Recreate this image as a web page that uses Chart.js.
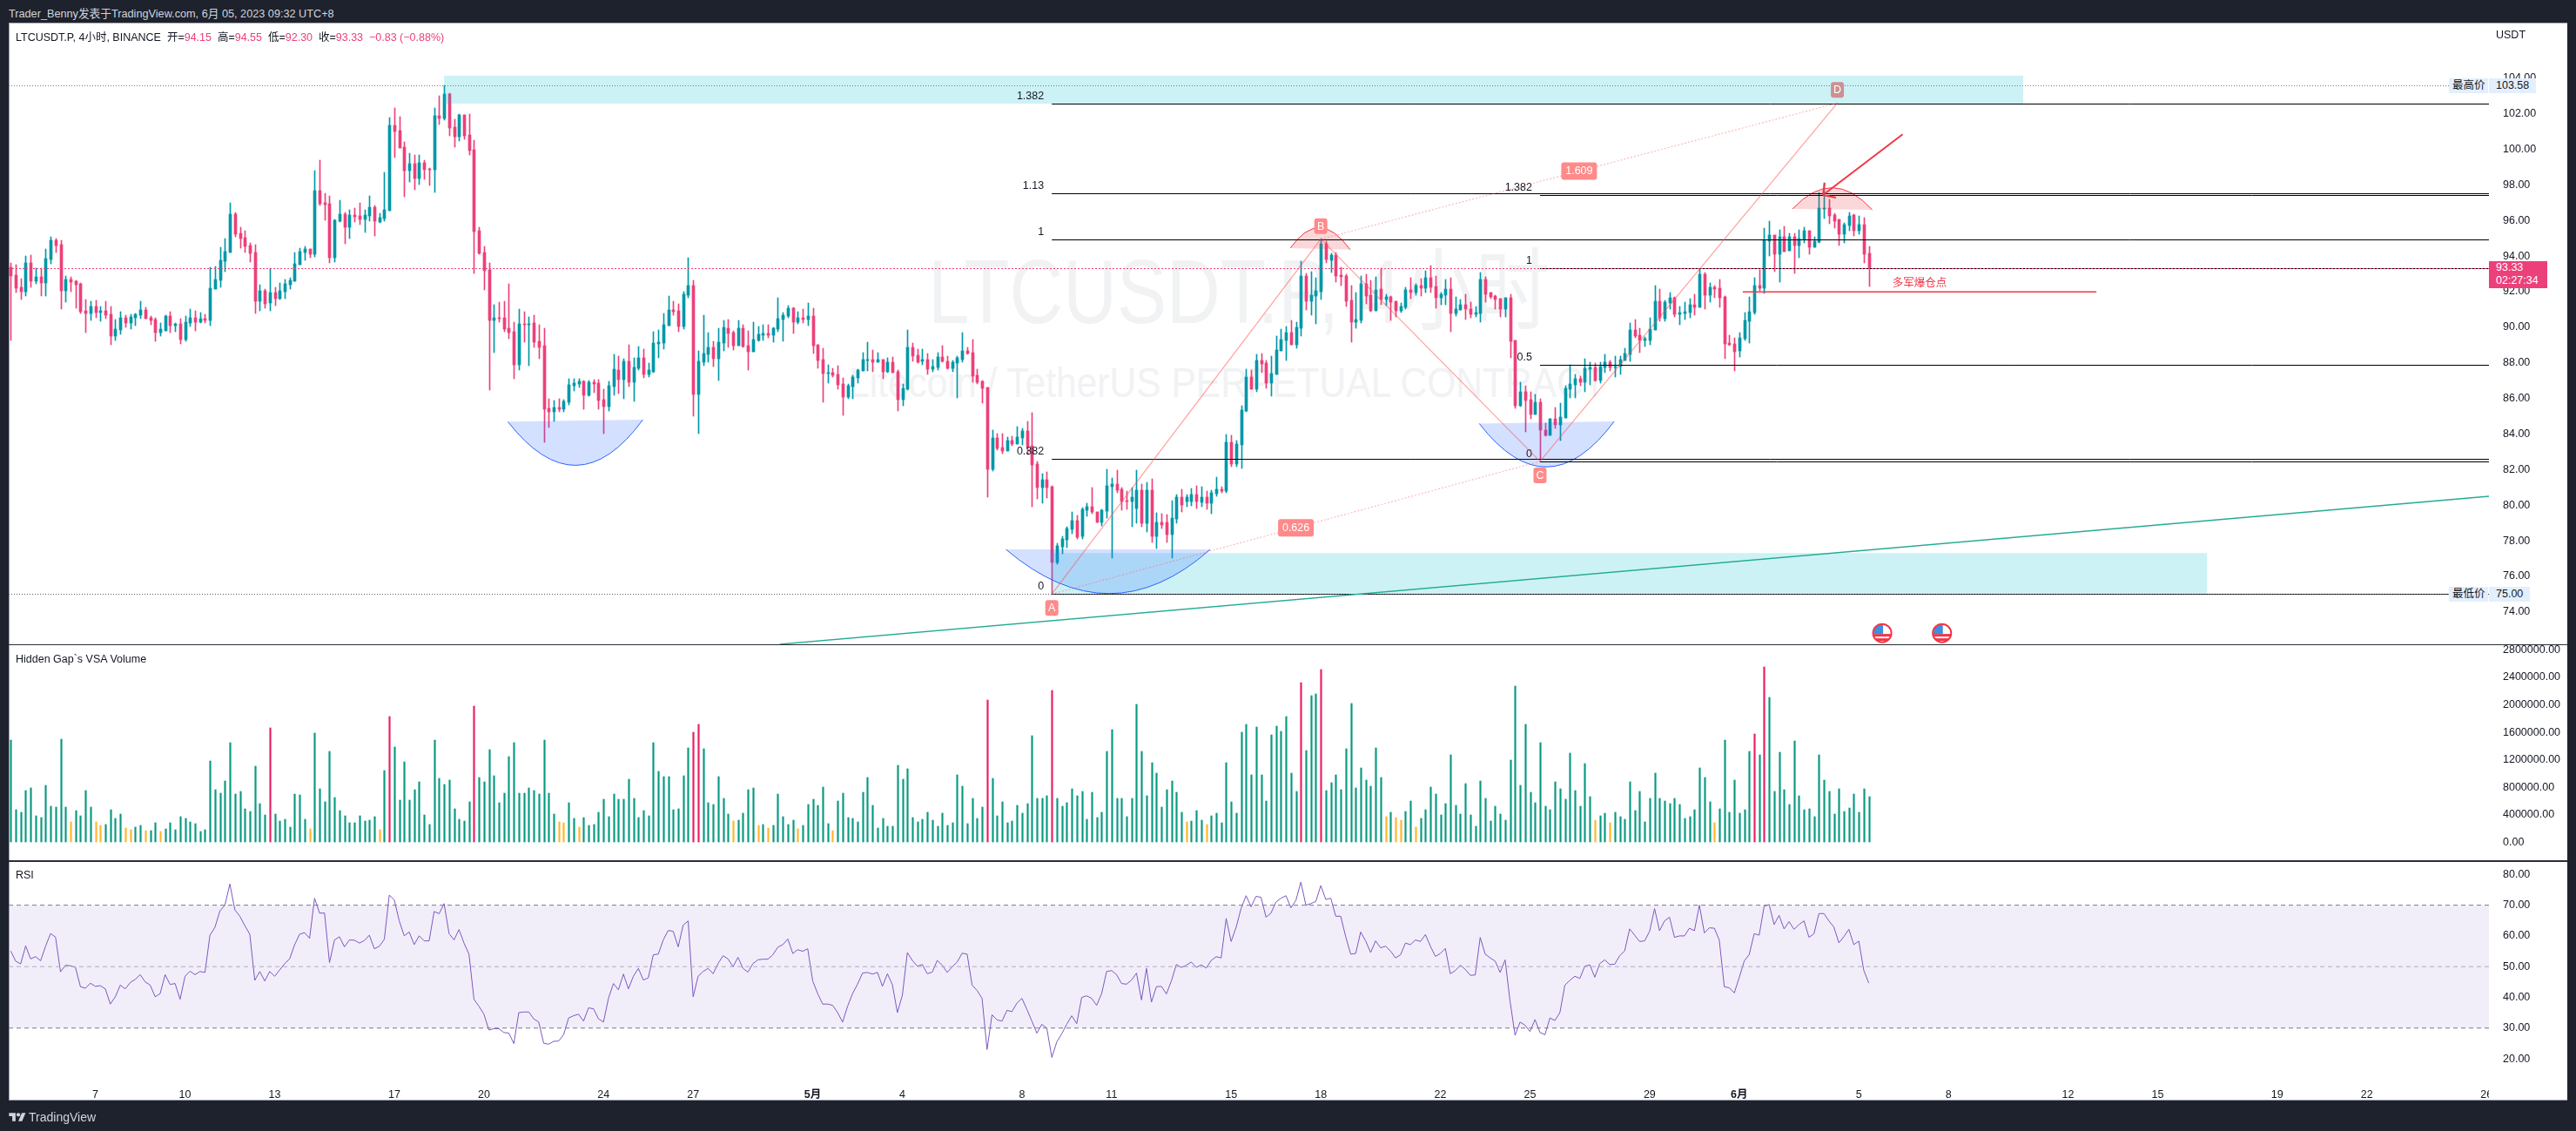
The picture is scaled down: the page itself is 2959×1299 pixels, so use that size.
<!DOCTYPE html>
<html>
<head>
<meta charset="utf-8">
<title>LTCUSDT.P</title>
<script src="https://cdn.jsdelivr.net/npm/chart.js@4/dist/chart.umd.min.js"></script>
<style>
  * { box-sizing: border-box; }
  html, body { margin: 0; width: 2959px; height: 1299px; overflow: hidden; background: #1e222d; font-family: "Liberation Sans", "Noto Sans CJK SC", sans-serif; }
  .abs { position: absolute; white-space: nowrap; }
  canvas { position: absolute; left: 10px; }
  #panel { left: 10px; top: 26px; width: 2939px; height: 1238px; background: #fff; border: 1px solid #a3a6af; border-right: 0; }
  .sep { left: 10px; width: 2939px; background: #2a2e39; }
  .t { font-size: 12.5px; line-height: 16px; color: #131722; }
  .mark { font-family: "Liberation Sans", "Noto Sans CJK SC", sans-serif; color: #f1f2f4; transform-origin: left top; }
  .down { color: #ec407a; }
  .tag { font-size: 12.5px; line-height: 17px; height: 17px; background: #e3effd; color: #131722; padding-left: 4px; }
</style>
</head>
<body>
<div class="abs" id="panel"></div>
<div class="abs mark" style="left:1066px;top:277px;font-size:103px;line-height:118px;transform:scaleX(0.83);">LTCUSDT.P, 4小时</div>
<div class="abs mark" style="left:975px;top:411px;font-size:49px;line-height:56px;transform:scaleX(0.868);">Litecoin / TetherUS PERPETUAL CONTRACT</div>

<canvas id="priceChart"></canvas>
<canvas id="volumeChart"></canvas>
<canvas id="rsiChart"></canvas>

<div class="abs sep" style="top:740px;height:1px;"></div>
<div class="abs sep" style="top:988px;height:2px;"></div>
<div class="abs" style="left:2859px;top:1238px;width:90px;height:24px;background:#fff;"></div>

<div class="abs" style="left:10px;top:8px;font-size:12.7px;line-height:16px;color:#d1d4dc;">Trader_Benny发表于TradingView.com, 6月 05, 2023 09:32 UTC+8</div>
<div class="abs t" style="left:18px;top:35px;">LTCUSDT.P, 4小时, BINANCE &nbsp;开=<span class="down">94.15</span> &nbsp;高=<span class="down">94.55</span> &nbsp;低=<span class="down">92.30</span> &nbsp;收=<span class="down">93.33 &nbsp;−0.83 (−0.88%)</span></div>
<div class="abs t" style="left:18px;top:749px;">Hidden Gap`s VSA Volume</div>
<div class="abs t" style="left:18px;top:997px;">RSI</div>
<div class="abs t" style="left:2867px;top:32px;">USDT</div>

<div class="abs tag" style="left:2813px;top:90px;width:45px;">最高价</div>
<div class="abs tag" style="left:2859px;top:90px;width:54px;padding-left:8px;">103.58</div>
<div class="abs tag" style="left:2813px;top:674px;width:45px;">最低价</div>
<div class="abs tag" style="left:2859px;top:674px;width:47px;padding-left:8px;">75.00</div>
<div class="abs" style="left:2859px;top:300px;width:67px;height:31px;background:#ec407a;color:#fff;font-size:12.5px;line-height:15px;padding-left:8px;">93.33<br>02:27:34</div>

<svg class="abs" style="left:10px;top:1276px;" width="20" height="15" viewBox="0 0 36 28" fill="#d1d4dc"><path d="M14 22H7V11H0V4h14v18zM28 22h-8l7.5-18h8L28 22z"/><circle cx="20" cy="8" r="4"/></svg>
<div class="abs" style="left:33px;top:1274px;font-size:14px;line-height:18px;color:#d1d4dc;">TradingView</div>

<script>
// candles, one per 4 hours
const opens = [
  93.36,92.92,92.24,91.99,93.61,92.58,92.83,92.48,93.81,94.88,
  94.64,92.04,92.68,92.58,92.43,90.92,90.77,91.16,90.82,90.92,
  90.72,89.5,89.84,90.53,90.23,90.53,90.67,90.97,90.53,90.43,
  89.69,89.79,90.62,90.09,90.18,89.3,90.23,90.53,90.28,90.48,
  90.38,92.14,92.63,93.71,94.2,96.35,95.27,95.03,94.59,94.2,
  91.46,92.04,91.36,91.95,91.6,91.99,92.39,92.58,93.51,94.2,
  94.39,94.1,97.67,96.99,96.94,93.9,95.96,96.35,95.62,96.3,
  96.25,96.06,96.25,96.74,95.91,96.11,96.55,101.34,101.05,100.12,
  98.8,99.19,98.36,99.24,98.91,98.85,101.88,101.73,103.1,101.24,
  100.71,101.93,100.8,99.97,95.42,94.2,93.22,90.38,90.53,90.53,
  89.94,89.74,87.88,90.18,90.13,90.23,89.2,88.96,85.44,85.24,
  85.49,85.39,85.78,86.71,86.81,86.95,86.17,86.9,86.86,85.93,
  85.53,86.66,87.59,87.05,88.08,86.9,87.69,88.27,87.35,87.49,
  89.06,89.11,90.09,90.97,90.92,90.04,91.8,92.34,86.22,88.03,
  88.47,88.86,88.23,89.11,89.94,89.69,88.96,89.94,88.96,88.62,
  89.25,89.55,89.65,89.55,89.89,90.43,90.63,91.07,90.28,90.53,
  90.43,90.63,89.01,88.18,87.4,87.44,87.35,86.81,86.07,86.66,
  87.15,87.54,88.13,88.18,88.03,88.18,87.49,88.03,87.49,85.93,
  86.51,88.86,88.42,88.08,88.18,87.64,87.74,88.33,88.08,87.69,
  87.98,88.18,88.67,88.57,87.3,86.95,86.61,82.01,83.77,83.24,
  83.04,83.63,83.43,83.77,84.17,83.33,82.31,80.98,81.42,81.03,
  76.78,77.66,78.05,78.63,79.12,78.24,79.71,79.91,79.61,79.03,
  79.66,81.03,81.18,80.89,80.25,80.2,79.8,80.83,78.97,80.83,
  78.24,79.03,79.03,78.33,79.24,80.43,80.22,80.22,80.58,80.17,
  80.43,80.1,80.66,80.89,80.79,83.53,82.31,83.39,85.29,87.2,
  86.52,88.13,87.99,86.86,87.35,88.67,89.26,89.7,89.02,89.94,
  92.88,91.46,91.76,92.0,94.69,93.76,94.06,92.93,92.88,91.51,
  90.29,90.39,92.44,91.8,90.92,92.15,91.56,91.71,91.46,90.92,
  91.12,92.1,91.95,92.34,92.2,92.78,92.29,91.66,91.8,92.15,
  90.77,90.97,91.27,91.02,90.73,90.77,92.69,91.95,91.76,91.61,
  91.02,91.65,89.25,85.58,86.37,85.92,85.09,85.78,84.21,83.92,
  84.85,84.51,84.9,86.51,86.76,87.1,86.9,87.64,87.74,87.0,
  87.74,88.03,87.74,87.78,88.13,88.47,89.84,89.55,89.25,89.25,
  89.84,91.45,90.48,91.36,91.65,90.72,90.77,90.82,91.26,91.11,
  92.97,91.8,92.24,92.19,91.7,89.11,89.06,88.67,89.35,90.33,
  90.82,92.34,92.19,94.83,95.17,94.1,95.08,94.29,95.08,94.59,
  94.93,95.42,94.49,94.78,96.64,96.69,96.3,96.06,95.22,95.71,
  96.3,95.42,95.76,94.15];
const closes = [
  92.89,92.19,91.99,93.61,92.58,92.83,92.48,93.85,94.88,94.59,
  92.04,92.68,92.53,92.39,90.87,90.77,91.16,90.82,90.92,90.67,
  89.5,89.89,90.53,90.23,90.58,90.72,90.97,90.48,90.38,89.69,
  89.89,90.62,90.09,90.18,89.3,90.28,90.53,90.28,90.48,90.38,
  92.19,92.68,93.76,94.25,96.35,95.22,94.98,94.54,94.15,91.46,
  92.04,91.31,91.95,91.6,92.04,92.43,92.63,93.56,94.25,94.39,
  94.1,97.67,96.94,96.89,93.9,96.01,96.35,95.62,96.3,96.2,
  96.06,96.3,96.74,95.96,96.15,96.6,101.34,101.0,100.07,98.8,
  99.19,98.36,99.24,98.85,98.85,101.88,101.73,103.1,101.2,100.71,
  101.93,100.75,99.92,95.37,94.15,93.17,90.38,90.53,90.48,89.89,
  89.69,87.88,90.18,90.13,90.18,89.16,88.86,85.39,85.24,85.49,
  85.39,85.83,86.76,86.86,86.95,86.17,86.9,86.81,85.88,85.53,
  86.71,87.64,87.05,88.08,86.9,87.74,88.27,87.35,87.59,89.11,
  89.16,90.13,90.97,90.87,90.04,91.85,92.34,86.22,88.08,88.52,
  88.86,88.23,89.16,89.99,89.65,88.96,89.94,88.91,88.62,89.3,
  89.6,89.65,89.55,89.94,90.48,90.67,91.07,90.28,90.53,90.43,
  90.63,88.96,88.13,87.4,87.44,87.3,86.76,86.07,86.71,87.2,
  87.59,88.18,88.18,88.03,88.18,87.49,88.03,87.44,85.93,86.56,
  88.86,88.37,88.03,88.18,87.64,87.79,88.33,88.08,87.69,88.03,
  88.28,88.67,88.52,87.25,86.9,86.56,82.01,83.77,83.19,83.04,
  83.63,83.43,83.82,84.17,83.28,82.26,80.98,81.42,80.98,76.78,
  77.7,78.1,78.68,79.12,78.19,79.76,79.91,79.61,79.03,79.71,
  81.08,81.18,80.84,80.2,80.2,80.45,80.83,78.97,80.83,78.24,
  79.03,78.86,78.33,79.29,80.43,79.99,80.43,80.6,80.2,80.43,
  80.1,80.69,80.89,80.79,83.53,82.31,83.44,85.34,87.2,86.52,
  88.13,87.94,86.86,87.4,88.72,89.31,89.7,89.02,89.99,92.88,
  91.46,91.8,92.05,94.69,93.81,94.06,92.88,92.83,91.46,90.29,
  90.43,92.44,91.76,90.92,92.1,91.56,91.71,91.41,90.92,91.17,
  92.1,91.95,92.34,92.2,92.78,92.25,91.66,91.85,92.15,90.77,
  91.02,91.27,91.02,90.73,90.83,92.69,91.85,91.71,91.56,91.02,
  91.66,89.2,85.58,86.37,85.88,85.09,85.78,84.21,83.92,84.85,
  84.51,84.95,86.56,86.81,87.1,86.9,87.69,87.74,87.0,87.78,
  88.03,87.74,87.78,88.18,88.52,89.84,89.5,89.25,89.35,89.89,
  91.45,90.52,91.41,91.65,90.72,90.82,90.87,91.26,91.11,92.97,
  91.8,92.24,92.14,91.65,89.06,89.01,88.62,89.4,90.38,90.87,
  92.34,92.19,94.88,95.17,94.1,95.08,94.24,95.08,94.59,94.98,
  95.42,94.49,94.83,96.69,96.69,96.25,95.96,95.22,95.76,96.25,
  95.42,95.76,94.1,93.33];
const highs = [
  93.61,93.51,92.73,94.0,94.05,93.32,93.32,94.39,95.08,94.98,
  94.88,92.88,92.83,92.63,92.48,91.55,91.46,91.51,91.16,91.46,
  91.16,90.43,90.87,90.67,90.72,90.77,91.46,91.11,90.62,90.53,
  90.23,90.67,90.87,90.23,90.48,90.62,91.02,90.92,90.82,90.72,
  93.36,93.41,94.49,94.98,96.99,96.45,95.62,95.42,94.74,94.64,
  92.39,92.14,93.3,92.24,92.48,92.68,92.78,94.2,94.44,94.54,
  94.39,98.8,99.38,97.52,97.38,96.06,97.13,96.45,96.59,96.69,
  96.99,96.59,97.38,96.84,96.4,98.7,101.78,102.32,101.83,100.41,
  99.78,99.68,99.68,99.38,98.96,102.32,103.01,103.58,103.15,101.68,
  101.98,101.93,101.98,100.51,95.62,94.54,93.61,91.26,91.41,91.46,
  92.43,90.28,91.02,90.87,90.58,90.67,90.13,89.94,85.98,85.88,
  85.98,85.93,87.1,87.1,87.1,87.0,87.0,87.05,87.05,86.52,
  86.95,88.47,88.37,88.23,89.01,88.27,88.91,88.76,87.98,89.74,
  89.84,90.77,91.75,91.46,91.31,92.0,93.9,92.63,88.67,90.67,
  89.69,89.2,89.94,90.38,90.43,89.79,90.38,90.13,89.79,90.28,
  90.04,90.14,90.14,89.99,91.65,90.82,91.21,91.11,90.87,91.02,
  91.36,91.07,89.01,88.81,87.88,87.69,87.84,87.15,86.81,87.3,
  87.64,88.57,89.16,88.72,88.57,88.18,88.28,88.33,87.59,86.81,
  89.84,89.11,88.77,88.77,88.52,88.18,88.57,88.96,88.37,88.13,
  88.37,89.7,88.86,89.3,87.64,87.0,86.61,84.21,84.02,84.02,
  83.82,83.87,84.41,84.31,84.7,85.19,82.45,81.77,81.87,81.08,
  77.85,78.24,78.78,79.61,79.42,79.86,80.1,80.98,79.61,79.76,
  82.01,81.52,81.96,80.98,80.79,80.98,81.97,81.18,81.28,81.48,
  79.55,79.5,79.47,80.25,80.58,80.89,80.6,80.94,81.09,81.04,
  80.79,80.84,81.58,81.04,83.97,83.92,83.63,85.59,87.64,87.6,
  88.48,88.53,88.13,88.38,89.5,89.9,90.04,90.39,90.3,93.71,
  93.03,93.12,92.78,94.99,94.84,94.15,94.2,93.37,92.98,92.34,
  91.95,92.88,92.98,92.64,92.83,93.32,91.85,91.76,91.46,91.36,
  92.25,92.78,92.44,92.74,93.17,93.47,92.88,91.95,92.69,92.78,
  91.71,91.56,91.85,91.41,91.17,93.08,92.83,91.95,91.8,91.61,
  91.66,91.85,89.25,86.9,86.71,86.37,86.22,85.97,84.6,84.85,
  85.48,85.73,86.71,87.87,87.34,87.25,88.22,88.03,87.98,88.03,
  88.47,88.13,88.37,88.37,88.81,90.23,90.43,89.94,89.45,90.52,
  92.34,92.14,91.5,91.94,91.7,91.16,91.41,91.6,91.85,93.27,
  93.07,92.48,92.34,92.68,91.75,89.55,89.4,89.69,90.82,91.7,
  92.78,93.22,95.57,95.96,95.17,95.47,95.66,95.27,95.27,95.47,
  95.61,95.42,95.08,97.57,98.11,97.18,96.4,96.06,95.86,96.45,
  96.35,96.25,96.15,94.55];
const lows = [
  89.25,91.95,91.55,91.75,92.24,92.43,91.75,91.75,93.56,94.2,
  91.02,91.41,91.99,91.06,90.77,89.69,90.38,90.53,90.33,90.48,
  89.01,89.25,89.6,89.99,89.89,90.09,90.48,90.48,90.14,89.2,
  89.5,89.79,89.69,89.74,89.06,89.2,90.04,89.79,90.23,90.23,
  90.09,92.14,92.24,93.12,94.2,95.08,94.44,94.2,93.66,90.77,
  90.92,91.06,90.92,91.21,91.55,91.6,92.14,92.58,93.51,93.76,
  93.9,93.95,96.84,96.01,93.61,93.66,95.91,94.69,94.98,95.91,
  95.76,95.32,95.96,95.13,95.86,95.96,96.55,99.53,100.07,97.33,
  98.16,97.72,98.01,98.31,97.97,97.57,101.39,101.64,100.75,100.12,
  100.46,100.56,99.68,93.02,94.1,92.09,86.46,88.57,90.28,89.74,
  89.35,87.1,87.59,89.16,87.83,88.86,88.23,83.53,84.36,84.7,
  85.24,85.24,85.63,86.42,86.61,85.39,86.12,86.32,85.39,84.02,
  85.29,86.17,86.27,85.98,86.66,85.83,87.59,87.15,87.2,87.44,
  88.27,88.76,90.09,90.67,89.74,89.89,91.65,85.0,84.02,87.83,
  88.03,87.79,87.0,88.67,88.86,88.72,88.96,88.86,87.59,88.62,
  89.2,89.25,89.4,89.16,89.74,89.21,90.53,89.65,90.18,90.23,
  90.09,88.52,87.69,85.78,86.86,87.2,86.51,85.05,86.0,85.98,
  86.86,87.54,87.54,87.49,88.03,87.1,87.44,87.44,85.29,85.58,
  86.47,88.08,87.98,87.88,87.35,87.49,87.59,88.03,87.64,87.49,
  86.02,88.03,88.47,86.9,86.81,85.73,80.45,81.91,83.09,82.89,
  83.04,83.33,83.43,83.38,82.86,79.91,80.35,80.1,80.4,75.0,
  76.68,77.26,77.61,78.39,78.09,78.09,79.37,79.52,79.03,78.83,
  79.27,77.02,80.69,79.71,79.76,78.78,79.0,78.77,78.5,77.9,
  77.55,78.7,77.9,77.02,79.0,79.64,79.9,79.95,79.8,79.9,
  79.75,79.5,80.5,80.7,80.7,82.16,82.16,82.07,85.25,86.52,
  86.37,87.45,86.57,86.13,87.35,88.67,88.14,89.02,88.82,89.5,
  90.97,90.68,90.19,91.56,93.62,93.08,92.54,92.34,91.17,89.16,
  89.94,90.24,91.32,90.87,90.92,91.27,91.22,90.39,90.58,90.83,
  91.02,91.61,91.8,91.76,91.95,91.95,91.07,91.27,91.27,89.75,
  90.63,90.97,90.43,90.53,90.58,90.29,91.41,91.61,91.02,90.58,
  90.58,88.27,85.44,85.53,84.11,84.85,85.09,82.55,83.87,83.92,
  84.31,83.62,84.9,86.02,86.02,86.71,86.37,86.76,86.95,86.85,
  87.44,87.54,87.2,87.34,88.13,88.08,89.4,88.57,88.91,89.01,
  89.84,90.33,90.33,91.01,90.57,90.13,90.43,90.52,90.67,91.11,
  91.01,91.41,91.65,91.11,88.22,88.96,87.54,88.32,89.25,89.11,
  90.72,92.04,91.9,94.0,93.12,92.53,94.24,94.29,93.02,93.9,
  94.73,94.1,94.49,94.73,96.1,95.81,95.57,94.59,94.73,95.42,
  95.13,95.22,93.61,92.3];

// VSA volume in thousands
const volumesK = [
  1488,478,441,753,795,390,363,832,528,515,
  1502,515,299,464,390,753,515,299,253,262,
  478,349,413,211,184,225,248,175,175,289,
  161,198,289,184,377,349,299,276,161,184,
  1185,767,717,896,1452,703,744,492,450,1112,
  565,400,1668,413,312,340,225,703,694,340,
  198,1590,781,593,1323,652,464,390,289,289,
  390,312,326,377,184,1047,1833,1387,616,1171,
  616,767,882,400,262,1488,933,845,910,492,
  340,312,593,1985,946,882,1351,969,579,717,
  1250,1452,717,717,795,753,703,1488,717,413,
  299,289,579,349,225,363,248,262,441,629,
  377,703,629,629,919,643,363,464,390,1452,
  1034,960,960,478,492,969,1378,1603,1718,1364,
  579,556,960,643,413,312,326,427,767,795,
  248,262,211,248,703,377,262,326,198,248,
  556,629,542,809,276,175,602,717,363,349,
  299,730,946,542,211,349,234,234,1121,919,
  1070,363,299,340,441,326,234,427,248,289,
  983,818,276,643,349,515,2072,933,390,593,
  289,312,542,427,565,1553,643,643,680,2210,
  643,528,579,781,680,744,340,730,363,441,
  1323,1640,643,643,377,643,2008,1323,680,1162,
  1011,515,767,896,730,441,299,312,464,326,
  262,390,427,289,1162,593,427,1603,1718,983,
  1681,983,602,1567,1691,1617,1833,1011,744,2325,
  1337,2136,2159,2518,753,868,983,767,1364,2021,
  795,1084,910,818,1378,946,377,441,363,326,
  450,602,225,349,478,809,703,400,565,1273,
  542,413,859,400,234,896,643,312,528,413,
  326,1199,2274,832,1718,730,579,1452,528,478,
  882,781,629,1300,753,528,1149,666,326,390,
  427,289,441,377,340,882,464,744,299,643,
  1011,644,606,569,644,553,351,378,479,1085,
  947,591,287,489,1490,442,899,426,479,1325,
  1580,1277,2554,2112,745,1314,771,553,1468,681,
  479,489,367,1277,910,734,415,782,452,505,
  708,442,782,670];
const volumeRedBars = [52, 76, 93, 137, 138, 196, 209, 259, 263, 350, 352];
const volumeOrangeBars = [12, 17, 18, 23, 24, 27, 30, 60, 74, 110, 111, 114, 145, 150, 152, 158, 165, 236, 240, 276, 278, 279, 282, 318, 321, 342];

const rsiValues = [
  55.09,51.8,50.87,56.74,52.52,53.24,51.9,56.63,60.75,59.61,
  48.3,50.46,50.26,49.74,43.47,42.96,44.6,43.57,43.78,42.75,
  37.81,40.18,43.98,42.75,44.81,45.84,47.38,45.01,43.98,40.18,
  41.21,47.38,44.19,44.5,39.36,46.86,48.51,47.38,48.41,48.1,
  60.23,62.8,68.15,70,76.89,68.46,66.4,63.32,60.54,45.53,
  48.41,45.32,48.41,46.86,48.92,50.98,52.52,57.15,60.54,61.05,
  59.2,72.26,67.43,67.43,51.29,58.69,59.72,56.43,58.69,58.59,
  57.66,58.48,60.23,55.81,56.63,58.89,73.29,71.75,64.86,60.03,
  61.26,57.15,60.03,58.38,58.38,67.94,67.22,70.51,60.75,58.69,
  62.08,57.66,54.06,39.36,37.09,34.52,29.38,29.79,29.79,28.56,
  28.35,24.96,35.04,35.24,35.24,32.98,31.95,25.06,24.76,25.68,
  25.78,27.84,33.29,34.01,34.52,32.26,36.58,36.27,32.98,31.95,
  39.67,44.5,42.44,47.58,42.75,46.86,49.43,45.63,46.35,53.86,
  54.06,58.69,61.77,61.47,56.43,63.52,64.86,40.18,46.86,48.41,
  49.43,47.69,50.98,53.55,52.52,49.95,53.03,49.43,48.2,50.98,
  52.21,52.42,52.42,53.86,56.32,57.15,59,54.27,55.5,54.99,
  55.81,45.32,41.21,37.81,37.81,37.4,35.04,31.95,37.09,41.21,
  44.29,47.89,48.1,47.58,48.1,43.57,47.69,44.09,35.04,40.69,
  54.58,52.01,50.15,50.67,47.69,48.2,52.01,50.46,48.1,49.95,
  51.49,54.37,54.06,43.98,42.24,39.67,23.01,34.32,32.67,32.26,
  35.76,35.35,38.12,39.67,36.07,32.26,28.35,31.23,29.9,20.44,
  25.48,28.15,31.23,34.01,31.44,39.97,40.49,39.67,37.4,41.21,
  48.41,48.71,47.38,44.5,44.29,45.63,47.89,39.15,49.43,38.43,
  43.47,43.57,41.11,45.32,50.67,49.74,50.46,51.49,49.74,50.57,
  49.54,52.01,53.24,52.83,65.69,58.17,62.8,68.97,73.08,69.49,
  72.88,72.57,66.09,67.43,71.03,72.26,73.08,69.18,71.54,77.51,
  70,70.51,71.23,76.38,71.85,72.26,66.4,66.4,59.72,54.06,
  54.27,61.26,58.38,54.58,58.38,56.12,56.63,55.09,52.83,53.86,
  57.66,57.15,58.69,58.17,60.44,56.63,53.34,54.27,55.91,47.69,
  48.71,50.46,49.13,47.17,47.28,59.51,54.06,52.83,51.8,48.1,
  52.21,38.64,27.64,31.95,30.92,28.87,32.78,28.56,27.84,33.29,
  32.47,35.04,43.98,45.53,46.86,46.14,50.15,50.57,46.55,50.98,
  52.21,50.67,50.77,53.55,55.09,62.29,60.23,58.17,58.38,61.47,
  68.87,61.67,64.88,66.07,59.52,60,60,62.5,61.67,70,
  60.95,62.62,62.5,58.57,43.45,43.1,41.43,46.43,51.79,53.93,
  60.71,60.24,69.64,70.24,63.69,66.67,62.26,64.64,62.14,63.69,
  64.88,59.52,60.71,67.26,67.26,64.88,62.86,57.74,59.76,62.14,
  57.14,58.33,48.81,44.64];
const rsiLevels = [70, 30, 50];

const priceTicks = [74, 76, 78, 80, 82, 84, 86, 88, 90, 92, 94, 96, 98, 100, 102, 104];
const volumeTicks = [0, 400000, 800000, 1200000, 1600000, 2000000, 2400000, 2800000];
const rsiTicks = [20, 30, 40, 50, 60, 70, 80];
const tickBars = [17, 35, 53, 77, 95, 119, 137, 161, 179, 203, 221, 245, 263, 287, 305, 329, 347, 371, 389, 413, 431, 455, 473, 497];
const tickLabels = ["7", "10", "13", "17", "20", "24", "27", "5月", "4", "8", "11", "15", "18", "22", "25", "29", "6月", "5", "8", "12", "15", "19", "22", "26"];

// drawings on the price pane, bar number + price
const fibOnePrices = [75, 82.62, 94.95, 97.54, 102.57];
const fibOneLabels = ["0", "0.382", "1", "1.13", "1.382"];
const fibOneStart = 209;
const fibTwoPrices = [82.46, 87.88, 93.31, 97.45];
const fibTwoLabels = ["0", "0.5", "1", "1.382"];
const fibTwoStart = 307;
const abcdBars = [209, 263, 307, 366.7];
const abcdPrices = [75, 94.95, 82.46, 102.6];
const abcdNames = ["A", "B", "C", "D"];
const ratioNames = ["0.626", "1.609"];
const zoneBars = [[87, 404], [209, 440.9]];
const zonePrices = [[104.14, 102.57], [77.31, 75]];
const blueBowls = [
  [[99.8, 84.69], [113.5, 82.24], [126.9, 84.8]],
  [[199.8, 77.51], [220.5, 75.03], [240.8, 77.51]],
  [[294.8, 84.59], [308.4, 82.15], [321.9, 84.71]],
];
const redCaps = [
  [[256.9, 94.45], [262.8, 95.59], [268.9, 94.36]],
  [[357.7, 96.65], [365.7, 97.84], [373.7, 96.6]],
];
const arrowBars = [379.8, 363.8];
const arrowPrices = [100.84, 97.43];
const trendBars = [154.4, 497.5];
const trendPrices = [72.18, 80.5];
const liquidationBars = [347.7, 418.7];
const liquidationPrice = 91.98;
const liquidationText = "多军爆仓点";
const highPrice = 103.58;
const lowPrice = 75;
const lastPrice = 93.33;
const eventBars = [375.7, 387.7];
const eventPrice = 72.81;

const barMin = -0.4;
const barMax = 497.5;
const upColor = "#0097a7";
const downColor = "#ec407a";

const fontFamily = '"Liberation Sans", "Noto Sans CJK SC", sans-serif';
Chart.defaults.font.family = fontFamily;
Chart.defaults.font.size = 12.5;
Chart.defaults.color = "#131722";

function setupCanvas(id, top, height) {
  const canvas = document.getElementById(id);
  canvas.width = 2939;
  canvas.height = height;
  canvas.style.top = top + "px";
  canvas.style.width = "2939px";
  canvas.style.height = height + "px";
  return canvas;
}

// the panes sit edge to edge, so no label may push the plot area in
function noPadding(scale) {
  scale.paddingTop = 0;
  scale.paddingBottom = 0;
  scale.paddingLeft = 0;
  scale.paddingRight = 0;
}

function paneOptions(min, max, tickValues, format) {
  return {
    responsive: false,
    animation: false,
    devicePixelRatio: 1,
    layout: { autoPadding: false, padding: 0 },
    plugins: { legend: { display: false }, tooltip: { enabled: false } },
    scales: {
      x: { type: "linear", min: barMin, max: barMax, offset: false, display: false, grid: { display: false }, afterFit: noPadding },
      y: {
        position: "right",
        min: min,
        max: max,
        grid: { display: false },
        border: { display: false },
        afterBuildTicks: (scale) => { scale.ticks = tickValues.map((v) => ({ value: v })); },
        afterFit: (scale) => { scale.width = 90; noPadding(scale); },
        ticks: { autoSkip: false, padding: 8, callback: format },
      },
    },
  };
}

// keep thin bars on whole pixels so they stay crisp like the original
const snapBars = {
  id: "snapBars",
  beforeDatasetsDraw(chart) {
    chart.data.datasets.forEach((ds, n) => {
      const meta = chart.getDatasetMeta(n);
      if (meta.type !== "bar") return;
      meta.data.forEach((el) => {
        el.x = Math.round(el.x) + (ds.barThickness === 2 ? 0 : 0.5);
        el.y = Math.round(el.y);
        el.base = Math.round(el.base);
        if (el.y === el.base) el.base = el.y + 1;
      });
    });
  },
};

function strokeLine(ctx, x1, y1, x2, y2, color, width, dash) {
  ctx.save();
  ctx.strokeStyle = color;
  ctx.lineWidth = width;
  ctx.setLineDash(dash || []);
  ctx.beginPath();
  ctx.moveTo(x1, y1);
  ctx.lineTo(x2, y2);
  ctx.stroke();
  ctx.restore();
}

function drawBowl(ctx, X, Y, points, fill, stroke) {
  const [a, b, c] = points.map((p) => [X(p[0]), Y(p[1])]);
  const cx = 2 * b[0] - (a[0] + c[0]) / 2;
  const cy = 2 * b[1] - (a[1] + c[1]) / 2;
  ctx.beginPath();
  ctx.moveTo(a[0], a[1]);
  ctx.quadraticCurveTo(cx, cy, c[0], c[1]);
  ctx.closePath();
  ctx.fillStyle = fill;
  ctx.fill();
  ctx.beginPath();
  ctx.moveTo(a[0], a[1]);
  ctx.quadraticCurveTo(cx, cy, c[0], c[1]);
  ctx.strokeStyle = stroke;
  ctx.lineWidth = 1;
  ctx.stroke();
}

function pill(ctx, cx, cy, w, h, color, text) {
  ctx.beginPath();
  ctx.roundRect(cx - w / 2, cy - h / 2, w, h, 3);
  ctx.fillStyle = color;
  ctx.fill();
  ctx.fillStyle = "#fff";
  ctx.textAlign = "center";
  ctx.textBaseline = "middle";
  ctx.fillText(text, cx, cy + 0.5);
}

function drawFlag(ctx, x, y) {
  ctx.save();
  ctx.beginPath();
  ctx.arc(x, y, 10, 0, Math.PI * 2);
  ctx.fillStyle = "#fff";
  ctx.fill();
  ctx.clip();
  ctx.fillStyle = "#f23645";
  ctx.fillRect(x - 10, y + 1, 20, 3);
  ctx.fillRect(x - 10, y + 6, 20, 3);
  ctx.fillStyle = "#3d8fe0";
  ctx.fillRect(x - 10, y - 10, 11, 11);
  ctx.restore();
  ctx.beginPath();
  ctx.arc(x, y, 10.5, 0, Math.PI * 2);
  ctx.strokeStyle = "#f23645";
  ctx.lineWidth = 2;
  ctx.stroke();
}

const drawings = {
  id: "drawings",
  afterDatasetsDraw(chart) {
    const ctx = chart.ctx;
    const X = (v) => chart.scales.x.getPixelForValue(v);
    const Y = (v) => chart.scales.y.getPixelForValue(v);
    const crispY = (v) => Math.round(Y(v)) + 0.5;
    const area = chart.chartArea;
    ctx.save();
    ctx.beginPath();
    ctx.rect(area.left, area.top, area.width, area.height);
    ctx.clip();

    zoneBars.forEach((bars, n) => {
      ctx.fillStyle = "rgba(0,188,212,0.2)";
      ctx.fillRect(X(bars[0]), Y(zonePrices[n][0]), X(bars[1]) - X(bars[0]), Y(zonePrices[n][1]) - Y(zonePrices[n][0]));
    });

    blueBowls.forEach((b) => drawBowl(ctx, X, Y, b, "rgba(41,98,255,0.2)", "#2962ff"));
    redCaps.forEach((b) => drawBowl(ctx, X, Y, b, "rgba(242,54,69,0.2)", "#f23645"));

    strokeLine(ctx, area.left, crispY(highPrice), area.right, crispY(highPrice), "#787b86", 1, [1, 2]);
    strokeLine(ctx, area.left, crispY(lowPrice), area.right, crispY(lowPrice), "#5d606b", 1, [1, 2]);

    ctx.font = "12.5px " + fontFamily;
    ctx.textAlign = "right";
    ctx.textBaseline = "middle";
    const fibs = [[fibOnePrices, fibOneLabels, fibOneStart], [fibTwoPrices, fibTwoLabels, fibTwoStart]];
    fibs.forEach(([prices, labels, start]) => {
      prices.forEach((price, n) => {
        const y = crispY(price);
        strokeLine(ctx, X(start), y, area.right, y, "#000", 1, price === lowPrice ? [2, 1] : []);
        ctx.fillStyle = "#131722";
        ctx.fillText(labels[n], X(start) - 9, y - 9);
      });
    });

    strokeLine(ctx, area.left, crispY(lastPrice), area.right, crispY(lastPrice), downColor, 1, [2, 2]);

    strokeLine(ctx, X(trendBars[0]), Y(trendPrices[0]), X(trendBars[1]), Y(trendPrices[1]), "#22ab94", 1.3);

    const soft = "rgba(255,82,82,0.55)";
    for (let n = 0; n < 3; n++) {
      strokeLine(ctx, X(abcdBars[n]), Y(abcdPrices[n]), X(abcdBars[n + 1]), Y(abcdPrices[n + 1]), soft, 1.2);
    }
    strokeLine(ctx, X(abcdBars[0]), Y(abcdPrices[0]), X(abcdBars[2]), Y(abcdPrices[2]), "rgba(255,82,82,0.4)", 1.2, [2, 2]);
    strokeLine(ctx, X(abcdBars[1]), Y(abcdPrices[1]), X(abcdBars[3]), Y(abcdPrices[3]), "rgba(255,82,82,0.4)", 1.2, [2, 2]);

    const offsets = [16, -15, 16, -15];
    abcdNames.forEach((name, n) => {
      const color = name === "D" ? "#cd9092" : "#ff8a8a";
      pill(ctx, X(abcdBars[n]), Y(abcdPrices[n]) + offsets[n], 15, 18, color, name);
    });
    [[0, 2], [1, 3]].forEach(([a, b], n) => {
      pill(ctx, (X(abcdBars[a]) + X(abcdBars[b])) / 2, (Y(abcdPrices[a]) + Y(abcdPrices[b])) / 2, 41, 20, "#ff8a8a", ratioNames[n]);
    });

    const tipX = X(arrowBars[1]);
    const tipY = Y(arrowPrices[1]);
    strokeLine(ctx, X(arrowBars[0]), Y(arrowPrices[0]), tipX, tipY, "#f23645", 2);
    strokeLine(ctx, tipX, tipY, tipX + 2, tipY - 14, "#f23645", 2);
    strokeLine(ctx, tipX, tipY, tipX + 15, tipY + 3, "#f23645", 2);

    const liqY = Y(liquidationPrice);
    strokeLine(ctx, X(liquidationBars[0]), liqY, X(liquidationBars[1]), liqY, "#f23645", 1.5);
    ctx.fillStyle = "#f23645";
    ctx.textAlign = "center";
    ctx.fillText(liquidationText, (X(liquidationBars[0]) + X(liquidationBars[1])) / 2 + 0, liqY - 10);

    eventBars.forEach((bar) => drawFlag(ctx, X(bar), Y(eventPrice)));
    ctx.restore();
  },
};

function createPriceChart() {
  const canvas = setupCanvas("priceChart", 27, 713);
  const colors = closes.map((c, i) => (c >= opens[i] ? upColor : downColor));
  new Chart(canvas, {
    type: "bar",
    data: {
      datasets: [
        { data: lows.map((l, i) => ({ x: i, y: [l, highs[i]] })), backgroundColor: colors, barThickness: 1, grouped: false },
        { data: opens.map((o, i) => ({ x: i, y: [o, closes[i]] })), backgroundColor: colors, barThickness: 3, grouped: false },
      ],
    },
    options: paneOptions(72.18, 107.07, priceTicks, (v) => v.toFixed(2)),
    plugins: [snapBars, drawings],
  });
}

function volumeColor(i) {
  if (volumeRedBars.includes(i)) return "#e91e63";
  if (volumeOrangeBars.includes(i)) return "#ffb52b";
  return "#089981";
}

function createVolumeChart() {
  const canvas = setupCanvas("volumeChart", 740, 248);
  new Chart(canvas, {
    type: "bar",
    data: {
      datasets: [
        {
          data: volumesK.map((v, i) => ({ x: i, y: v * 1000 })),
          backgroundColor: volumesK.map((_, i) => volumeColor(i)),
          barThickness: 1.5,
          grouped: false,
        },
      ],
    },
    options: paneOptions(-259494, 2879000, volumeTicks, (v) => v.toFixed(2)),
    plugins: [snapBars],
  });
}

function createRsiChart() {
  const canvas = setupCanvas("rsiChart", 988, 275);
  const options = paneOptions(14.35, 84.63, rsiTicks, (v) => v.toFixed(2));
  options.scales.x = {
    type: "linear",
    min: barMin,
    max: barMax,
    offset: false,
    grid: { display: false },
    border: { display: false },
    afterBuildTicks: (scale) => { scale.ticks = tickBars.map((b) => ({ value: b })); },
    afterFit: (scale) => { scale.height = 27; noPadding(scale); },
    ticks: {
      autoSkip: false,
      maxRotation: 0,
      minRotation: 0,
      padding: 6,
      font: (ctx) => (ctx.tick && String(ctx.tick.label).includes("月") ? { weight: "bold", size: 12.5 } : { size: 12.5 }),
      callback: (value, index) => tickLabels[index],
    },
  };
  const levelLine = (level, color, fill) => ({
    type: "line",
    data: [{ x: barMin, y: level }, { x: barMax, y: level }],
    borderColor: color,
    borderWidth: 1,
    borderDash: [5, 4],
    pointRadius: 0,
    fill: fill,
    backgroundColor: "rgba(126,87,194,0.1)",
  });
  new Chart(canvas, {
    type: "line",
    data: {
      datasets: [
        levelLine(rsiLevels[0], "#787b86", "+1"),
        levelLine(rsiLevels[1], "#787b86", false),
        levelLine(rsiLevels[2], "#b2b5be", false),
        {
          data: rsiValues.map((v, i) => ({ x: i, y: v })),
          borderColor: "#7e57c2",
          borderWidth: 1,
          pointRadius: 0,
          tension: 0,
          fill: false,
        },
      ],
    },
    options: options,
  });
}

createPriceChart();
createVolumeChart();
createRsiChart();
</script>
</body>
</html>
